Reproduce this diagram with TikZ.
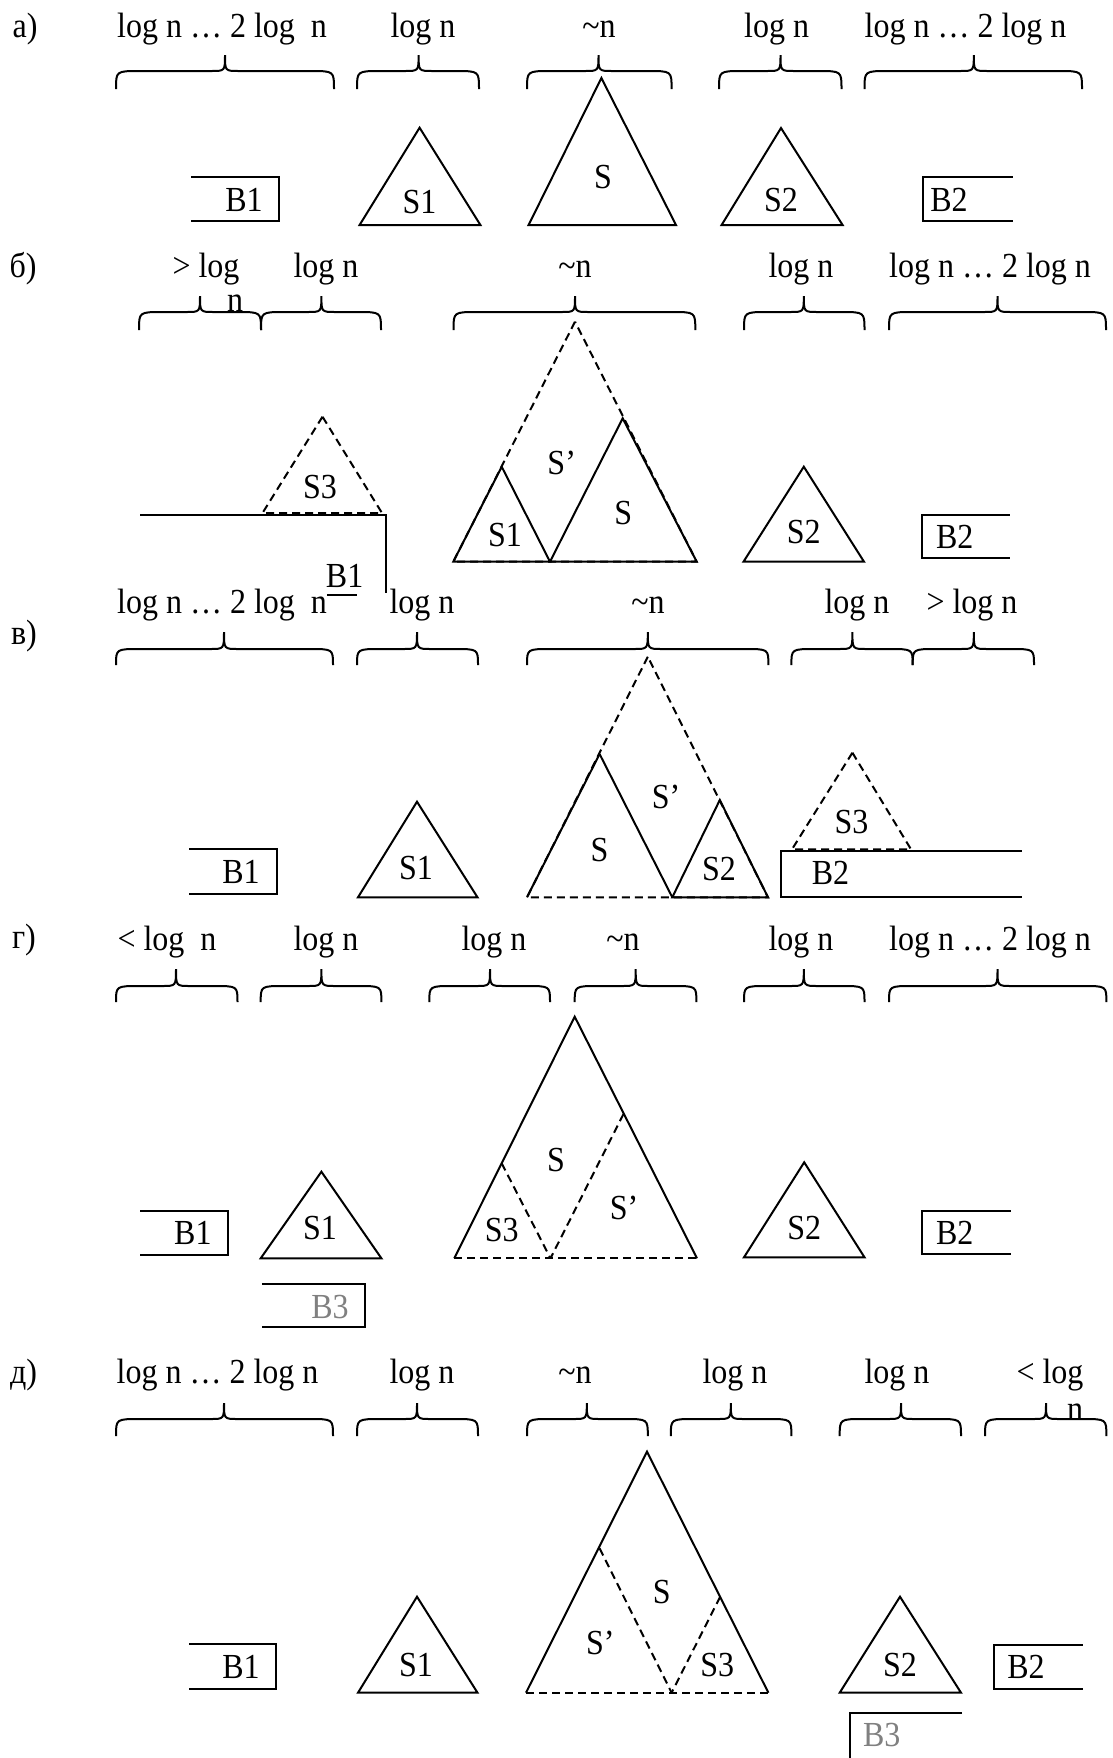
\documentclass[tikz,border=0pt]{standalone}
\usepackage{fontspec}
\setmainfont{Liberation Serif}
\newcommand\mybrc[6]{%
  \draw (#1,#6) .. controls (#1,#5) .. ({#1+24},#5) -- ({#3-14},#5)
     .. controls (#3,#5) .. (#3,#4) .. controls (#3,#5) .. ({#3+14},#5)
     -- ({#2-24},#5) .. controls (#2,#5) .. (#2,#6);}
\newcommand\tx[1]{\scalebox{1}[1.1]{#1}}
\definecolor{grtxt}{gray}{0.5}
\begin{document}
\begin{tikzpicture}[x=0.5pt,y=-0.5pt,line width=1pt,line join=miter,
  lb/.style={inner sep=0pt,anchor=base,font=\fontsize{16}{19}\selectfont},
  tl/.style={inner sep=0pt,anchor=center,font=\fontsize{16}{19}\selectfont},
  dsh/.style={dash pattern=on 4pt off 2.5pt}]
\useasboundingbox (0,0) rectangle (1113,1758);
% ================= a
\node[lb] (la) at (25,37.7) {\tx{а)}};
\node[lb] (a1) at (222,37.7) {\tx{log n … 2 log\ \ n}};
\node[lb] (a2) at (423,37.7) {\tx{log n}};
\node[lb] (a3) at (599,37.7) {\tx{\textasciitilde n}};
\node[lb] (a4) at (776.6,37.7) {\tx{log n}};
\node[lb] (a5) at (965.5,37.7) {\tx{log n … 2 log n}};
\mybrc{116}{334}{225}{55}{71}{89}
\mybrc{357}{479}{418.6}{55}{71}{89}
\mybrc{527}{671.6}{598.5}{55}{71}{89}
\mybrc{719}{841.5}{780.5}{55}{71}{89}
\mybrc{864.5}{1082}{973.8}{55}{71}{89}
\draw (191,176.7) -- (278.6,176.7) -- (278.6,220.7) -- (191,220.7);
\node[tl] (aB1) at (244,200) {\tx{B1}};
\draw (419.6,127.7) -- (359.6,225) -- (480.4,225) -- cycle;
\node[tl] (aS1) at (419.6,201.7) {\tx{S1}};
\draw (601.4,78) -- (528.6,225) -- (676,225) -- cycle;
\node[tl] (aS) at (602.9,176.7) {\tx{S}};
\draw (781,128) -- (721.6,225) -- (842.6,225) -- cycle;
\node[tl] (aS2) at (781,200) {\tx{S2}};
\draw (1012.5,176.7) -- (923,176.7) -- (923,220.7) -- (1012.5,220.7);
\node[tl] (aB2) at (949,200) {\tx{B2}};
% ================= b
\node[lb] (lb) at (23,277.7) {\tx{б)}};
\node[lb] (b1) at (206,277.7) {\tx{> log}};
\node[lb] (b1n) at (235,311) {\tx{n}};
\node[lb] (b2) at (326,277.7) {\tx{log n}};
\node[lb] (b3) at (575,277.7) {\tx{\textasciitilde n}};
\node[lb] (b4) at (801,277.7) {\tx{log n}};
\node[lb] (b5) at (990,277.7) {\tx{log n … 2 log n}};
\mybrc{139}{261}{200}{296}{312}{330}
\mybrc{261}{381}{321.4}{296}{312}{330}
\mybrc{453.5}{695.3}{575}{296}{312}{330}
\mybrc{744}{864.5}{803.8}{296}{312}{330}
\mybrc{889}{1106}{997.5}{296}{312}{330}
\draw (140,515) -- (385.7,515) -- (385.7,593);
\draw (327,595) -- (357,595);
\node[tl] (bB1) at (344.6,576) {\tx{B1}};
\draw[dsh] (322.5,416.7) -- (262.5,513) -- (382,513) -- cycle;
\node[tl] (bS3) at (320,486.7) {\tx{S3}};
\draw[dsh] (575,321.7) -- (453.3,561.7) -- (696.7,561.7) -- cycle;
\draw (501.7,466.7) -- (453.3,561.7) -- (550,561.7) -- cycle;
\node[tl] (bS1) at (505,535) {\tx{S1}};
\draw (622.7,418.3) -- (550,561.7) -- (696.7,561.7) -- cycle;
\node[tl] (bS) at (623.3,513.3) {\tx{S}};
\node[tl] (bSp) at (561.7,463.3) {\tx{S’}};
\draw (803.8,466.7) -- (743.5,561.7) -- (864,561.7) -- cycle;
\node[tl] (bS2) at (803.8,531.7) {\tx{S2}};
\draw (1009.6,515) -- (921.9,515) -- (921.9,558.3) -- (1009.6,558.3);
\node[tl] (bB2) at (954.8,536.7) {\tx{B2}};
% ================= v
\node[lb] (lv) at (24,644) {\tx{в)}};
\node[lb] (v1) at (222,613) {\tx{log n … 2 log\ \ n}};
\node[lb] (v2) at (422,613) {\tx{log n}};
\node[lb] (v3) at (648,613) {\tx{\textasciitilde n}};
\node[lb] (v4) at (857,613) {\tx{log n}};
\node[lb] (v5) at (972,613) {\tx{> log n}};
\mybrc{116}{333}{224}{632}{649}{665}
\mybrc{357}{478}{417}{632}{649}{665}
\mybrc{527}{768.4}{647.8}{632}{649}{665}
\mybrc{791.4}{912.7}{852.4}{632}{649}{665}
\mybrc{912.7}{1034}{973.8}{632}{649}{665}
\draw (189,849) -- (276.8,849) -- (276.8,894) -- (189,894);
\node[tl] (vB1) at (241,871.7) {\tx{B1}};
\draw (417,801.7) -- (358,897.3) -- (477.5,897.3) -- cycle;
\node[tl] (vS1) at (416,868) {\tx{S1}};
\draw[dsh] (647.8,656.7) -- (527,897.3) -- (768,897.3) -- cycle;
\draw (599.6,754) -- (527,897.3);
\draw (599.6,754) -- (672.3,897.3);
\node[tl] (vS) at (599.6,850) {\tx{S}};
\draw (719.8,800) -- (672.3,897.3) -- (768,897.3) -- cycle;
\node[tl] (vS2) at (719,869) {\tx{S2}};
\node[tl] (vSp) at (666,796.7) {\tx{S’}};
\draw[dsh] (852.4,752.7) -- (792,849.3) -- (911,849.3) -- cycle;
\node[tl] (vS3) at (851.4,821.7) {\tx{S3}};
\draw (1021.6,850.7) -- (780.5,850.7) -- (780.5,897.3) -- (1021.6,897.3);
\node[tl] (vB2) at (830.5,873.3) {\tx{B2}};
% ================= g
\node[lb] (lg) at (24,948) {\tx{г)}};
\node[lb] (g1) at (167,950) {\tx{< log\ \ n}};
\node[lb] (g2) at (326,950) {\tx{log n}};
\node[lb] (g3) at (494,950) {\tx{log n}};
\node[lb] (g4) at (623,950) {\tx{\textasciitilde n}};
\node[lb] (g5) at (801,950) {\tx{log n}};
\node[lb] (g6) at (990,950) {\tx{log n … 2 log n}};
\mybrc{116}{237.5}{176}{969}{986}{1002}
\mybrc{260.7}{381.4}{321.4}{969}{986}{1002}
\mybrc{429.3}{550}{490}{969}{986}{1002}
\mybrc{574.7}{696.4}{635.7}{969}{986}{1002}
\mybrc{744}{864.5}{803.8}{969}{986}{1002}
\mybrc{889}{1106.4}{997.5}{969}{986}{1002}
\draw (140,1210.7) -- (227.9,1210.7) -- (227.9,1255) -- (140,1255);
\node[tl] (gB1) at (192.9,1233.3) {\tx{B1}};
\draw (321.4,1171.7) -- (260.7,1258.3) -- (381.4,1258.3) -- cycle;
\node[tl] (gS1) at (320,1228.3) {\tx{S1}};
\draw (261.8,1284) -- (365,1284) -- (365,1326.7) -- (261.8,1326.7);
\node[tl,text=grtxt] (gB3) at (330,1306.7) {\tx{B3}};
\draw (454.3,1258.3) -- (574.7,1016.7) -- (697,1258.3);
\draw[dsh] (454.3,1258.3) -- (697,1258.3);
\draw[dsh] (501.7,1163.3) -- (550.5,1258.3);
\draw[dsh] (623.5,1114) -- (550.5,1258.3);
\node[tl] (gS3) at (501.8,1230) {\tx{S3}};
\node[tl] (gS) at (556,1160) {\tx{S}};
\node[tl] (gSp) at (624,1208.3) {\tx{S’}};
\draw (804.2,1162.3) -- (744,1257.3) -- (864.5,1257.3) -- cycle;
\node[tl] (gS2) at (804.2,1228.3) {\tx{S2}};
\draw (1010.7,1211) -- (921.9,1211) -- (921.9,1254.3) -- (1010.7,1254.3);
\node[tl] (gB2) at (954.8,1232.7) {\tx{B2}};
% ================= d
\node[lb] (ld) at (23.5,1383) {\tx{д)}};
\node[lb] (d1) at (217.5,1383.3) {\tx{log n … 2 log n}};
\node[lb] (d2) at (422,1383.3) {\tx{log n}};
\node[lb] (d3) at (575,1383.3) {\tx{\textasciitilde n}};
\node[lb] (d4) at (735,1383.3) {\tx{log n}};
\node[lb] (d5) at (897,1383.3) {\tx{log n}};
\node[lb] (d6) at (1050,1383.3) {\tx{< log}};
\node[lb] (d6n) at (1075,1420) {\tx{n}};
\mybrc{116}{333}{224}{1403}{1419}{1436}
\mybrc{357}{478}{417}{1403}{1419}{1436}
\mybrc{527}{647.8}{586.8}{1403}{1419}{1436}
\mybrc{670.8}{791.4}{730.8}{1403}{1419}{1436}
\mybrc{839.7}{961}{901}{1403}{1419}{1436}
\mybrc{985}{1106.4}{1046}{1403}{1419}{1436}
\draw (189,1644.3) -- (276,1644.3) -- (276,1689) -- (189,1689);
\node[tl] (dB1) at (241,1666.7) {\tx{B1}};
\draw (417,1596.7) -- (358,1692.7) -- (477.5,1692.7) -- cycle;
\node[tl] (dS1) at (416,1665) {\tx{S1}};
\draw (526,1692.7) -- (647,1451.7) -- (768.4,1692.7);
\draw[dsh] (526,1692.7) -- (768.4,1692.7);
\draw[dsh] (599.6,1548.3) -- (671.6,1692.7);
\draw[dsh] (720.2,1596.7) -- (671.6,1692.7);
\node[tl] (dS) at (661.7,1591.7) {\tx{S}};
\node[tl] (dSp) at (600.3,1643.3) {\tx{S’}};
\node[tl] (dS3) at (717.2,1665) {\tx{S3}};
\draw (900,1596.7) -- (839.7,1692.7) -- (961,1692.7) -- cycle;
\node[tl] (dS2) at (900,1665) {\tx{S2}};
\draw (1082.7,1645) -- (993.9,1645) -- (993.9,1689) -- (1082.7,1689);
\node[tl] (dB2) at (1026,1666.7) {\tx{B2}};
\draw (962,1713.3) -- (849.9,1713.3) -- (849.9,1760);
\node[tl,text=grtxt] (dB3) at (881.7,1735) {\tx{B3}};
\end{tikzpicture}
\end{document}
